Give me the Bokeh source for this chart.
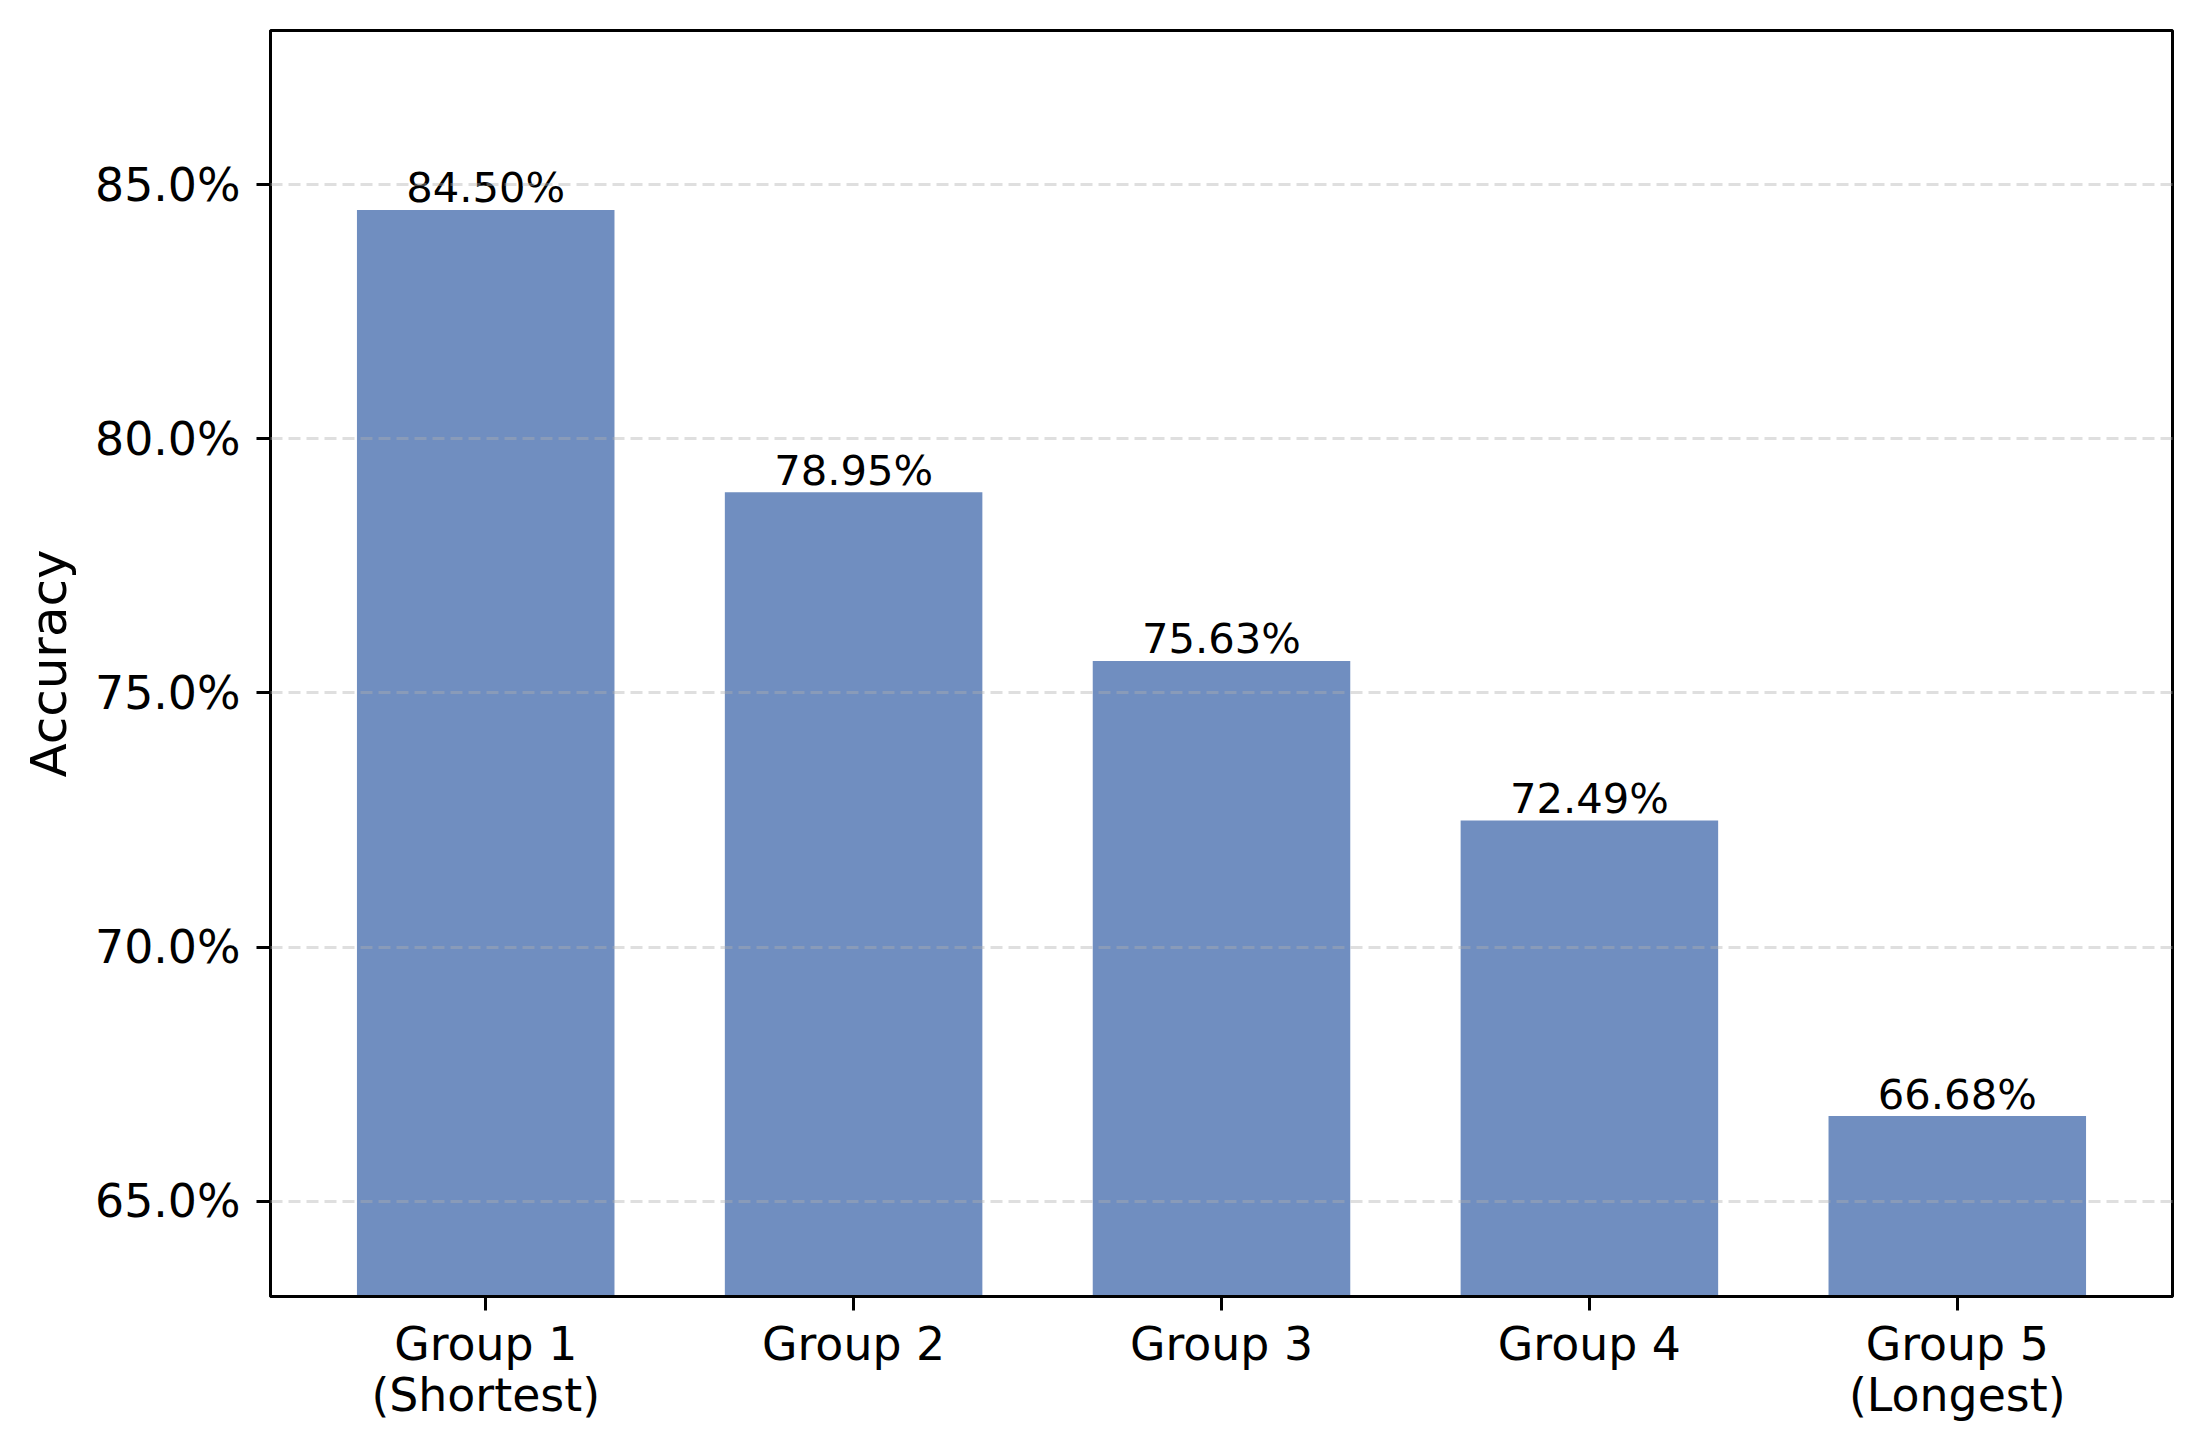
from bokeh.plotting import figure
from bokeh.models import FactorRange, Range1d, FixedTicker, PrintfTickFormatter, ColumnDataSource
from bokeh.core.properties import value
from bokeh.embed import file_html
from bokeh.resources import INLINE

groups = ["Group 1\n(Shortest)", "Group 2", "Group 3", "Group 4", "Group 5\n(Longest)"]
accuracy = [84.50, 78.95, 75.63, 72.49, 66.68]
labels = ["84.50%", "78.95%", "75.63%", "72.49%", "66.68%"]
y_ticks = [65, 70, 75, 80, 85]

FONT = "DejaVu Sans"

src = ColumnDataSource(dict(x=groups, top=accuracy, label=labels))

p = figure(
    x_range=FactorRange(factors=groups, range_padding=0.085, range_padding_units="absolute"),
    y_range=Range1d(63.13, 88.03),
    frame_width=1902, frame_height=1266,
    min_border_left=270, min_border_top=30, min_border_right=14, min_border_bottom=140,
    output_backend="svg", toolbar_location=None,
    background_fill_color="white", border_fill_color="white",
)

p.vbar(x="x", top="top", bottom=0, width=0.7, source=src,
       fill_color="#4C72B0", fill_alpha=0.8, line_color=None)

p.text(x="x", y="top", text="label", source=src,
       text_font=value(FONT), text_font_size="41.7px", text_color="black",
       text_align="center", text_baseline="alphabetic", y_offset=-22)

# grid
p.xgrid.visible = False
p.ygrid.ticker = FixedTicker(ticks=y_ticks)
p.ygrid.grid_line_color = "#b0b0b0"
p.ygrid.grid_line_alpha = 0.4
p.ygrid.grid_line_width = 3
p.ygrid.grid_line_dash = "12 6"
p.ygrid.level = "overlay"

# outline
p.outline_line_color = "black"
p.outline_line_width = 3
p.outline_line_alpha = 1.0

# y axis
p.yaxis.ticker = FixedTicker(ticks=y_ticks)
p.yaxis.formatter = PrintfTickFormatter(format="%.1f%%")
p.yaxis.axis_label = "Accuracy"
p.yaxis.axis_label_text_font = FONT
p.yaxis.axis_label_text_font_size = "50px"
p.yaxis.axis_label_text_font_style = "normal"
p.yaxis.axis_label_text_color = "black"
p.yaxis.axis_label_standoff = 14

for ax in (p.xaxis[0], p.yaxis[0]):
    ax.axis_line_color = "black"
    ax.axis_line_width = 3
    ax.major_tick_line_color = "black"
    ax.major_tick_line_width = 3
    ax.major_tick_out = 14
    ax.major_tick_in = 0
    ax.minor_tick_line_color = None
    ax.major_label_text_font = FONT
    ax.major_label_text_font_size = "45.8px"
    ax.major_label_text_color = "black"

p.yaxis.major_label_standoff = 16
p.xaxis.major_label_standoff = 6
p.xaxis.major_label_text_line_height = 0.95

open("out.html", "w").write(file_html(p, INLINE))
